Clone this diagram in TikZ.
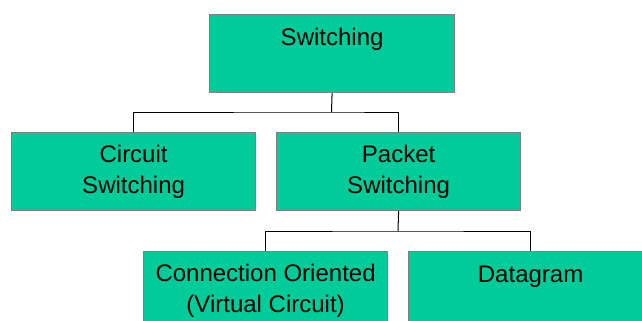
\documentclass[tikz,border=0pt]{standalone}
\usepackage{fontspec}
\setmainfont{Liberation Sans}
\definecolor{boxgreen}{RGB}{0,204,153}
\definecolor{boxgray}{RGB}{128,128,128}
\begin{document}
\begin{tikzpicture}[x=1pt,y=-1pt,
  box/.style={draw=boxgray, line width=1.2pt, fill=boxgreen,
    minimum width=244pt, minimum height=78pt, inner sep=0pt,
    anchor=north west, align=center,
    font=\fontsize{24}{30.5}\selectfont},
  headline/.style={text height=31pt, text depth=47pt},
  link/.style={draw=black, line width=1pt}]
  % canvas
  \useasboundingbox (0,0) rectangle (642,321);
  \fill[white] (0,0) rectangle (642,321);
  \clip (0,0) rectangle (642,321);

  % boxes
  \node[box, headline, minimum width=245pt] (sw) at (209,14) {Switching};
  \node[box] (cs) at (11,132) {Circuit\\Switching};
  \node[box] (ps) at (276,132) {Packet\\Switching};
  \node[box] (co) at (143,251) {Connection Oriented\\(Virtual Circuit)};
  \node[box, headline] (dg) at (408,251) {Datagram};

  % junctions
  \coordinate (j1) at (331.5,112);
  \coordinate (j2) at (398,231);

  % tree connectors
  \draw[link] (sw.south) -- (j1);
  \draw[link] (cs.north) |- (j1) -| (ps.north);
  \draw[link] (ps.south) -- (j2);
  \draw[link] (co.north) |- (j2) -| (dg.north);
\end{tikzpicture}
\end{document}
